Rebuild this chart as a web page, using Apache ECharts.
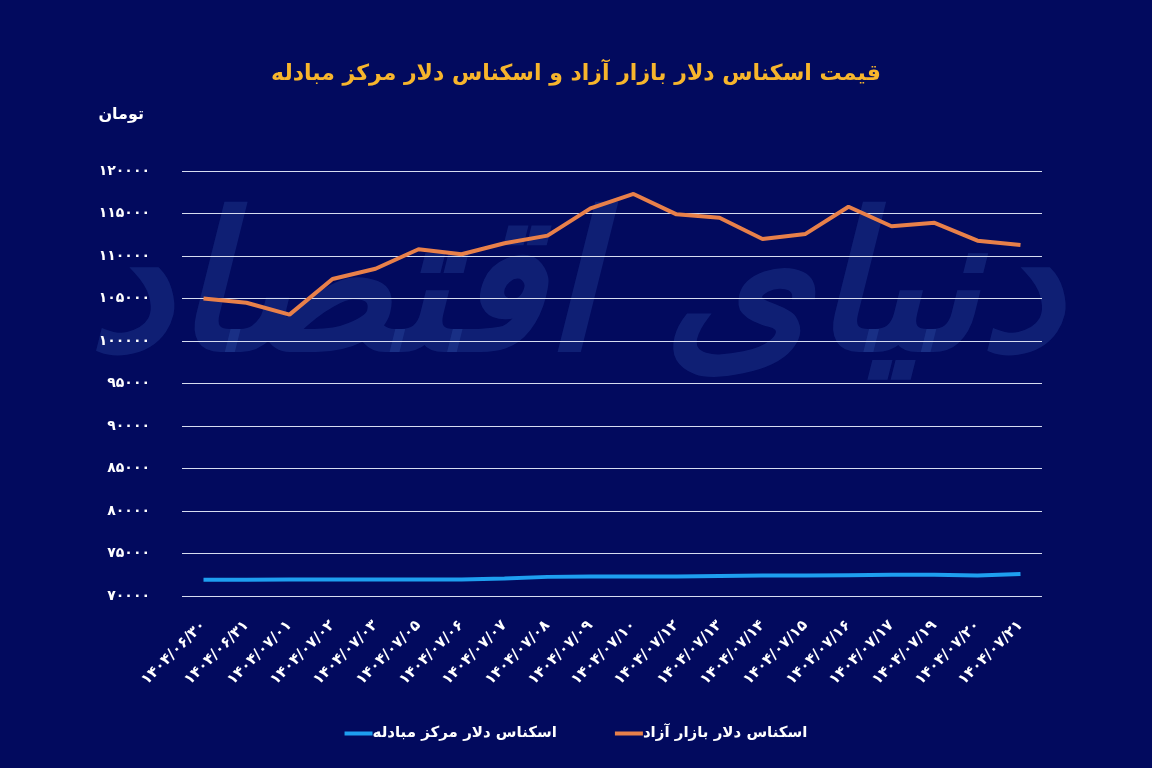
<!DOCTYPE html>
<html>
<head>
<meta charset="utf-8">
<script src="https://cdn.jsdelivr.net/npm/echarts@6/dist/echarts.min.js"></script>
<style>
html,body{margin:0;padding:0;background:#020a5e;}
#c{width:1152px;height:768px;}
</style>
</head>
<body>
<div id="c"></div>
<script>
const categories = ['۱۴۰۴/۰۶/۳۰','۱۴۰۴/۰۶/۳۱','۱۴۰۴/۰۷/۰۱','۱۴۰۴/۰۷/۰۲','۱۴۰۴/۰۷/۰۳','۱۴۰۴/۰۷/۰۵','۱۴۰۴/۰۷/۰۶','۱۴۰۴/۰۷/۰۷','۱۴۰۴/۰۷/۰۸','۱۴۰۴/۰۷/۰۹','۱۴۰۴/۰۷/۱۰','۱۴۰۴/۰۷/۱۲','۱۴۰۴/۰۷/۱۳','۱۴۰۴/۰۷/۱۴','۱۴۰۴/۰۷/۱۵','۱۴۰۴/۰۷/۱۶','۱۴۰۴/۰۷/۱۷','۱۴۰۴/۰۷/۱۹','۱۴۰۴/۰۷/۲۰','۱۴۰۴/۰۷/۲۱'];
const freeMarket = [105000,104500,103100,107300,108500,110800,110200,111500,112400,115600,117300,114900,114500,112000,112600,115800,113500,113900,111800,111300];
const exchangeCenter = [71900,71900,71950,71950,71950,71950,71950,72050,72250,72300,72300,72300,72350,72400,72400,72450,72500,72500,72400,72600];
const yTickValues = [70000,75000,80000,85000,90000,95000,100000,105000,110000,115000,120000];
const yTickLabels = ['۷۰۰۰۰','۷۵۰۰۰','۸۰۰۰۰','۸۵۰۰۰','۹۰۰۰۰','۹۵۰۰۰','۱۰۰۰۰۰','۱۰۵۰۰۰','۱۱۰۰۰۰','۱۱۵۰۰۰','۱۲۰۰۰۰'];
const seriesNames = ['اسکناس دلار مرکز مبادله','اسکناس دلار بازار آزاد'];
const titleText = 'قیمت اسکناس دلار بازار آزاد و اسکناس دلار مرکز مبادله';
const unitText = 'تومان';
const watermarkText = 'دنیای اقتصاد';

const FONT = '"DejaVu Sans", "Noto Sans", sans-serif';
const chart = echarts.init(document.getElementById('c'));
chart.setOption({
  backgroundColor: '#020a5e',
  animation: false,
  graphic: [{
    type: 'text',
    z: -10,
    left: 'center',
    top: 205,
    silent: true,
    style: {
      text: watermarkText,
      font: 'bold italic 190px ' + FONT,
      fill: 'rgba(60,100,190,0.24)'
    }
  }],
  title: {
    text: titleText,
    left: 'center',
    top: 58,
    textStyle: {color: '#f7b52c', fontFamily: FONT, fontWeight: 'bold', fontSize: 22}
  },
  legend: {
    data: seriesNames,
    bottom: 22,
    left: 'center',
    itemGap: 58,
    itemWidth: 28,
    itemHeight: 4,
    icon: 'rect',
    textStyle: {color: '#ffffff', fontFamily: FONT, fontWeight: 'bold', fontSize: 15, padding: [0,0,0,-5]}
  },
  grid: {left: 182, right: 110, top: 171, bottom: 172, containLabel: false},
  xAxis: {
    type: 'category',
    data: categories,
    boundaryGap: true,
    axisLine: {show: false},
    axisTick: {show: false},
    axisLabel: {color: '#ffffff', fontFamily: FONT, fontWeight: 'bold', fontSize: 15, rotate: 45, margin: 27, interval: 0}
  },
  yAxis: {
    type: 'value',
    min: 70000,
    max: 120000,
    interval: 5000,
    name: unitText,
    nameLocation: 'end',
    nameGap: 48,
    nameTextStyle: {color: '#ffffff', fontFamily: FONT, fontWeight: 'bold', fontSize: 16, align: 'right', padding: [0, 38, 0, 0]},
    axisLine: {show: false},
    axisTick: {show: false},
    axisLabel: {
      color: '#ffffff', fontFamily: FONT, fontWeight: 'bold', fontSize: 14, margin: 32,
      formatter: function (v) { const i = yTickValues.indexOf(v); return i >= 0 ? yTickLabels[i] : ''; }
    },
    splitLine: {lineStyle: {color: '#d6dcf0', width: 1}}
  },
  series: [{
    name: seriesNames[0],
    type: 'line',
    data: exchangeCenter,
    symbol: 'none',
    z: 5,
    color: '#1e9ff0',
    lineStyle: {color: '#1e9ff0', width: 4}
  }, {
    name: seriesNames[1],
    type: 'line',
    data: freeMarket,
    symbol: 'none',
    z: 5,
    color: '#e8804a',
    lineStyle: {color: '#e8804a', width: 4}
  }]
});
</script>
</body>
</html>
